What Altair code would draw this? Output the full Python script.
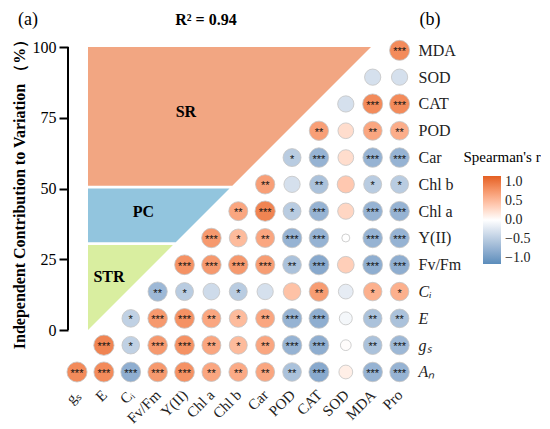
import json
import altair as alt
import pandas as pd

FONT = "Liberation Serif"

# ---------------- data ----------------
col_vars = ["gₛ", "E", "Cᵢ", "Fv/Fm", "Y(II)", "Chl a", "Chl b", "Car", "POD", "CAT", "SOD", "MDA", "Pro"]
row_vars = ["Aₙ", "gₛ", "E", "Cᵢ", "Fv/Fm", "Y(II)", "Chl a", "Chl b", "Car", "POD", "CAT", "SOD", "MDA"]

# Spearman's r for each row variable, starting at the diagonal column
r_An = [0.85, 0.85, -0.80, 0.75, 0.80, 0.65, 0.62, 0.65, -0.60, -0.85, 0.12, -0.75, -0.75]
r_gs = [0.90, -0.45, 0.75, 0.80, 0.65, 0.50, 0.65, -0.75, -0.80, 0.02, -0.60, -0.70]
r_E = [-0.45, 0.75, 0.80, 0.65, 0.50, 0.65, -0.75, -0.80, -0.08, -0.60, -0.60]
r_Ci = [-0.70, -0.50, -0.35, -0.50, -0.30, 0.45, 0.72, -0.18, 0.58, 0.58]
r_Fv = [0.80, 0.75, 0.75, 0.72, -0.60, -0.85, 0.35, -0.80, -0.80]
r_Y = [0.75, 0.50, 0.65, -0.75, -0.75, 0.00, -0.75, -0.75]
r_Chla = [0.65, 0.90, -0.50, -0.75, 0.30, -0.75, -0.75]
r_Chlb = [0.70, -0.30, -0.60, 0.40, -0.50, -0.50]
r_Car = [-0.50, -0.75, 0.25, -0.75, -0.75]
r_POD = [0.70, 0.25, 0.65, 0.60]
r_CAT = [-0.30, 0.85, 0.85]
r_SOD = [-0.30, -0.30]
r_MDA = [0.85]

s_An = ["***", "***", "***", "***", "***", "**", "**", "**", "**", "***", "", "***", "***"]
s_gs = ["***", "*", "***", "***", "**", "*", "**", "***", "***", "", "**", "***"]
s_E = ["*", "***", "***", "**", "*", "**", "***", "***", "", "**", "**"]
s_Ci = ["**", "*", "", "*", "", "", "**", "", "*", "*"]
s_Fv = ["***", "***", "***", "***", "**", "***", "", "***", "***"]
s_Y = ["***", "*", "**", "***", "***", "", "***", "***"]
s_Chla = ["**", "***", "*", "***", "", "***", "***"]
s_Chlb = ["**", "", "**", "", "*", "*"]
s_Car = ["*", "***", "", "***", "***"]
s_POD = ["**", "", "**", "**"]
s_CAT = ["", "***", "***"]
s_SOD = ["", ""]
s_MDA = ["***"]

r_rows = [r_An, r_gs, r_E, r_Ci, r_Fv, r_Y, r_Chla, r_Chlb, r_Car, r_POD, r_CAT, r_SOD, r_MDA]
s_rows = [s_An, s_gs, s_E, s_Ci, s_Fv, s_Y, s_Chla, s_Chlb, s_Car, s_POD, s_CAT, s_SOD, s_MDA]

# independent contribution bands (%)
band_names = ["STR", "PC", "SR"]
band_lo = [0, 31, 51]
band_hi = [30, 50, 100]
band_colors = ["#D9EEA0", "#92C5DE", "#F2A682"]
band_label_x = [7.4, 19.6, 34.6]
band_label_y = [18.7, 41.7, 77.0]
pct_ticks = [0, 25, 50, 75, 100]

legend_values = [-1.0, -0.5, 0.0, 0.5, 1.0]

# ---------------- tables ----------------
recs = []
for j, (rv, sv) in enumerate(zip(r_rows, s_rows)):
    for k, (r, s) in enumerate(zip(rv, sv)):
        i = j + k
        recs.append({"i": i, "j": j, "r": r, "absr": abs(r), "stars": s,
                     "col": col_vars[i], "row": row_vars[j]})
df_mat = pd.DataFrame(recs)

band_recs = []
for b, lo, hi in zip(band_names, band_lo, band_hi):
    band_recs.append({"band": b, "p": lo, "left": 0})
    band_recs.append({"band": b, "p": hi, "left": 0})
df_band = pd.DataFrame(band_recs)
df_band_lab = pd.DataFrame({"band": band_names, "x": band_label_x, "y": band_label_y})
df_rule = pd.DataFrame({"lo": [min(pct_ticks)], "hi": [max(pct_ticks)]})

W, H = 345, 353

# ---------------- percentage (left) part ----------------
px_scale = alt.Scale(domain=[-7.07, 114.84], nice=False, zero=False)
py_scale = alt.Scale(domain=[-20.14, 104.6], nice=False, zero=False)

pct_axis = alt.Axis(orient="left", values=pct_ticks, domain=False, grid=False,
                    tickSize=9, tickWidth=2, tickColor="black", labelOverlap=False,
                    labelFont=FONT, labelFontSize=16, labelColor="black", labelPadding=3,
                    title="Independent Contribution to Variation （%）",
                    titleFont=FONT, titleFontSize=16, titleFontWeight="bold",
                    titleColor="black", titlePadding=5, titleY=156)

bands = alt.Chart(df_band).mark_area(orient="horizontal", opacity=1).encode(
    y=alt.Y("p:Q", scale=py_scale, axis=pct_axis),
    x=alt.X("left:Q", scale=px_scale, axis=None),
    x2="p:Q",
    color=alt.Color("band:N", scale=alt.Scale(domain=band_names, range=band_colors), legend=None),
    detail="band:N",
)

axis_rule = alt.Chart(df_rule).mark_rule(color="black", strokeWidth=2).encode(
    x=alt.value(0),
    y=alt.Y("lo:Q", scale=py_scale, axis=pct_axis),
    y2="hi:Q",
)

band_text = alt.Chart(df_band_lab).mark_text(font=FONT, fontSize=16, fontWeight="bold", color="black").encode(
    x=alt.X("x:Q", scale=px_scale, axis=None),
    y=alt.Y("y:Q", scale=py_scale, axis=pct_axis),
    text="band:N",
)

pct_layer = alt.layer(bands, axis_rule, band_text)

# ---------------- correlation matrix ----------------
mx_scale = alt.Scale(domain=[-0.335, 12.5], nice=False, zero=False)
my_scale = alt.Scale(domain=[-0.56, 12.61], nice=False, zero=False)

x_expr = json.dumps(col_vars, ensure_ascii=False) + "[datum.value]"
y_expr = json.dumps(row_vars, ensure_ascii=False) + "[datum.value]"

mx_axis = alt.Axis(orient="bottom", values=list(range(len(col_vars))), labelExpr=x_expr,
                   labelAngle=-45, labelAlign="right", labelBaseline="middle",
                   labelPadding=5, domain=False, ticks=False, grid=False, labelOverlap=False,
                   labelFont=FONT, labelFontSize=15, labelColor="#222222", title=None)
my_axis = alt.Axis(orient="right", values=list(range(len(row_vars))), labelExpr=y_expr,
                   labelAlign="left", labelBaseline="middle", labelPadding=5,
                   domain=False, ticks=False, grid=False, labelOverlap=False,
                   labelFont=FONT, labelFontSize=16, labelColor="#222222",
                   labelFontStyle={"condition": {"test": "datum.value <= 3", "value": "italic"},
                                   "value": "normal"},
                   title=None)

circles = alt.Chart(df_mat).mark_circle(opacity=1, stroke="#C4C4C4", strokeWidth=0.8).encode(
    x=alt.X("i:Q", scale=mx_scale, axis=mx_axis),
    y=alt.Y("j:Q", scale=my_scale, axis=my_axis),
    color=alt.Color("r:Q",
                    scale=alt.Scale(domain=[-1.15, 0, 1.15], range=["#5B8DBB", "#FFFFFF", "#E45F22"],
                                    interpolate="lab"),
                    legend=alt.Legend(title=None, orient="none", legendX=415, legendY=142,
                                      gradientLength=88, gradientThickness=18,
                                      gradientStrokeWidth=0, values=legend_values, format=".1f",
                                      labelOverlap=False,
                                      labelFont=FONT, labelFontSize=14, labelColor="#222222",
                                      labelOffset=4)),
    size=alt.Size("absr:Q", scale=alt.Scale(type="pow", exponent=0.5, domain=[0, 1], range=[64, 430]),
                  legend=None),
)

stars = alt.Chart(df_mat).mark_text(fontSize=11, color="#111111", baseline="middle", dy=2).encode(
    x=alt.X("i:Q", scale=mx_scale, axis=mx_axis),
    y=alt.Y("j:Q", scale=my_scale, axis=my_axis),
    text="stars:N",
)

mat_layer = alt.layer(circles, stars)

# ---------------- annotations ----------------
def note(txt, x, y, size, weight="normal"):
    return alt.Chart(pd.DataFrame({"t": [txt]})).mark_text(
        font=FONT, fontSize=size, fontWeight=weight, color="black", baseline="middle", align="center"
    ).encode(x=alt.value(x), y=alt.value(y), text="t:N")

ann_a = note("(a)", -40, -14, 18)
ann_r2 = note("R² = 0.94", 138, -14, 16, "bold")
ann_b = note("(b)", 362, -14, 18)
ann_leg = note("Spearman's r", 434, 123, 15)

chart = alt.layer(pct_layer, mat_layer, ann_a, ann_r2, ann_b, ann_leg).resolve_scale(
    x="independent", y="independent", color="independent", size="independent"
).properties(
    width=W, height=H, padding={"left": 3, "top": 3, "right": 0, "bottom": 0}
).configure_view(strokeWidth=0).configure_axis(labelOverlap=False)

chart.save("out.html", embed_options={"renderer": "svg", "actions": False})
